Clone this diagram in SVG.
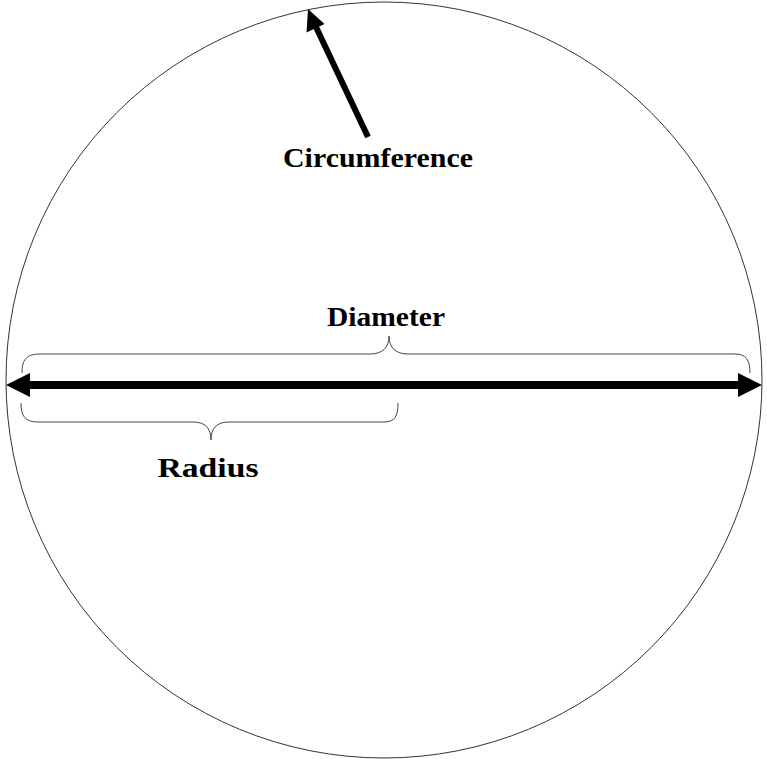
<svg xmlns="http://www.w3.org/2000/svg" width="767" height="759" viewBox="0 0 767 759">
<style>
.lbl{font-family:"Liberation Serif","DejaVu Serif",serif;font-weight:bold;font-size:28px;fill:#000;text-anchor:middle}
.brace{fill:none;stroke:#444;stroke-width:1}
.arr{stroke:#000;fill:none}
.head{fill:#000}
</style>
<rect width="767" height="759" fill="#fff"/>
<g id="circle">
<circle cx="384" cy="380" r="378" fill="none" stroke="#333" stroke-width="1"/>
</g>
<g id="connectors">
<line class="arr" x1="30" y1="385" x2="738" y2="385" stroke-width="8"/>
<path class="head" d="M6,385 L30,373 L30,397 Z"/>
<path class="head" d="M762,385 L738,373 L738,397 Z"/>
<line class="arr" x1="368" y1="137" x2="316" y2="27" stroke-width="6"/>
<path class="head" d="M308,9 L306.5,32.5 L324.5,24 Z"/>
<path class="brace" d="M22,373 C22,360 26,354 40,354 L370,354 C382,354 389,348 389,336 C389,348 396,354 408,354 L735,354 C746,354 750,360 750,373"/>
<path class="brace" d="M21,403 C21,416 25,422 38,422 L193,422 C205,422 211,428 211,440 C211,428 217,422 229,422 L384,422 C395,422 398,416 398,403"/>
</g>
<g id="circumference">
<text class="lbl" x="378" y="167" textLength="190" lengthAdjust="spacingAndGlyphs">Circumference</text>
</g>
<g id="diameter">
<text class="lbl" x="386" y="326" textLength="118" lengthAdjust="spacingAndGlyphs">Diameter</text>
</g>
<g id="radius">
<text class="lbl" x="208" y="477" textLength="101" lengthAdjust="spacingAndGlyphs">Radius</text>
</g>
</svg>
